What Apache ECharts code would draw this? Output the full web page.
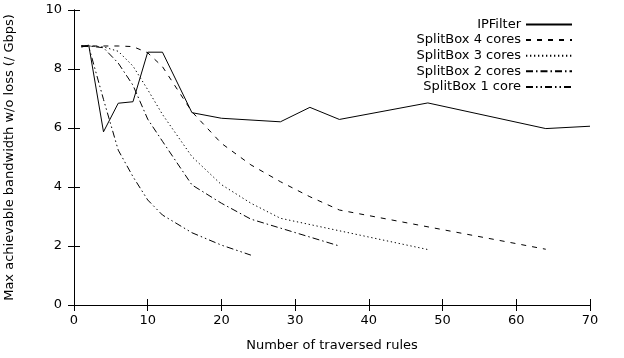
<!DOCTYPE html>
<html>
<head>
<meta charset="utf-8">
<script src="https://cdn.jsdelivr.net/npm/echarts@6/dist/echarts.min.js"></script>
<style>html,body{margin:0;padding:0;background:#fff}#c{width:624px;height:358px}</style>
</head>
<body>
<div id="c"></div>
<script>
const xTicks = [0, 10, 20, 30, 40, 50, 60, 70];
const yTicks = [0, 2, 4, 6, 8, 10];

const ipfX = [1, 2, 4, 6, 8, 10, 12, 16, 20, 28, 32, 36, 48, 64, 70];
const ipfY = [8.74, 8.81, 5.87, 6.84, 6.89, 8.57, 8.57, 6.52, 6.33, 6.21, 6.70, 6.29, 6.85, 5.98, 6.06];

const sb4X = [1, 2, 4, 6, 8, 10, 12, 16, 20, 24, 28, 32, 36, 64];
const sb4Y = [8.78, 8.78, 8.78, 8.78, 8.76, 8.55, 8.08, 6.55, 5.48, 4.75, 4.18, 3.67, 3.22, 1.89];

const sb3X = [1, 2, 4, 6, 8, 10, 12, 16, 20, 24, 28, 48];
const sb3Y = [8.78, 8.78, 8.75, 8.6, 8.1, 7.3, 6.46, 5.03, 4.08, 3.45, 2.94, 1.88];

const sb2X = [1, 2, 4, 6, 8, 10, 12, 16, 20, 24, 36];
const sb2Y = [8.78, 8.78, 8.72, 8.2, 7.45, 6.3, 5.55, 4.07, 3.45, 2.91, 2.0];

const sb1X = [1, 2, 4, 6, 8, 10, 12, 16, 20, 24];
const sb1Y = [8.78, 8.76, 6.97, 5.25, 4.35, 3.56, 3.05, 2.45, 2.03, 1.69];

const names = ['IPFilter', 'SplitBox 4 cores', 'SplitBox 3 cores', 'SplitBox 2 cores', 'SplitBox 1 core'];

function pairs(xs, ys) { return xs.map((x, i) => [x, ys[i]]); }

const FONT = 'DejaVu Sans';
const dashes = ['solid', [5, 6], [1.3, 2.7], [7, 3, 1.5, 3], [7, 3, 1.5, 3, 1.5, 3]];
const datas = [pairs(ipfX, ipfY), pairs(sb4X, sb4Y), pairs(sb3X, sb3Y), pairs(sb2X, sb2Y), pairs(sb1X, sb1Y)];

const axCommon = {
  type: 'value',
  axisLine: { show: true, lineStyle: { color: '#000', width: 1 } },
  axisTick: { show: true, inside: true, length: 6, lineStyle: { color: '#000', width: 1 } },
  splitLine: { show: false }
};

const chart = echarts.init(document.getElementById('c'), null, { renderer: 'canvas' });
chart.setOption({
  animation: false,
  backgroundColor: '#fff',
  grid: { left: 74, right: 34, top: 10, bottom: 53, containLabel: false, outerBoundsMode: 'none' },
  legend: {
    orient: 'vertical',
    right: 51,
    top: 18,
    padding: 0,
    align: 'right',
    itemWidth: 46,
    itemHeight: 10,
    itemGap: 2.6,
    data: names,
    itemStyle: { opacity: 0 },
    textStyle: { fontFamily: FONT, fontSize: 13, color: '#000', lineHeight: 13 }
  },
  xAxis: [
    Object.assign({}, axCommon, {
      min: xTicks[0], max: xTicks[xTicks.length - 1], interval: 10,
      position: 'bottom',
      name: 'Number of traversed rules', nameLocation: 'middle', nameGap: 34,
      nameTextStyle: { fontFamily: FONT, fontSize: 13, color: '#000' },
      axisLabel: { fontFamily: FONT, fontSize: 13, color: '#000', margin: 9 }
    }),
    Object.assign({}, axCommon, {
      min: xTicks[0], max: xTicks[xTicks.length - 1], interval: 10,
      position: 'top', axisLabel: { show: false }
    })
  ],
  yAxis: [
    Object.assign({}, axCommon, {
      min: yTicks[0], max: yTicks[yTicks.length - 1], interval: 2,
      position: 'left',
      name: 'Max achievable bandwidth w/o loss (/ Gbps)', nameLocation: 'middle', nameGap: 58,
      nameTextStyle: { fontFamily: FONT, fontSize: 13, color: '#000' },
      axisLabel: { fontFamily: FONT, fontSize: 13, color: '#000', margin: 12 }
    }),
    Object.assign({}, axCommon, {
      min: yTicks[0], max: yTicks[yTicks.length - 1], interval: 2,
      position: 'right', axisLabel: { show: false }
    })
  ],
  series: names.map((n, i) => ({
    name: n,
    type: 'line',
    data: datas[i],
    symbol: 'none',
    smooth: false,
    clip: true,
    lineStyle: { color: '#000', width: 1, type: dashes[i] },
    itemStyle: { color: '#000' }
  }))
});
</script>
</body>
</html>
